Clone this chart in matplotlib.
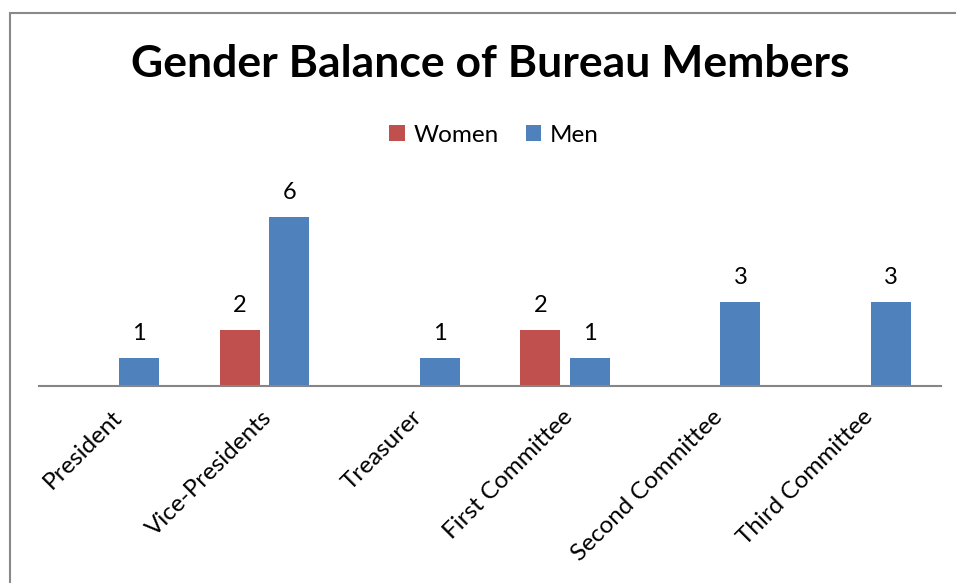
import matplotlib.pyplot as plt
import matplotlib.transforms as mtransforms
import numpy as np
from matplotlib.patches import Rectangle

categories = ["President", "Vice-Presidents", "Treasurer",
              "First Committee", "Second Committee", "Third Committee"]
women = [0, 2, 0, 2, 0, 0]
men = [1, 6, 1, 1, 3, 3]

RED = "#C0504D"
BLUE = "#4F81BD"
GREY = "#898989"

plt.rcParams["font.family"] = ["Lato", "DejaVu Sans"]

W, H = 956, 583
fig = plt.figure(figsize=(W / 100, H / 100), dpi=100)

# chart frame (runs off the right and bottom edges, as in the reference)
fig.patches.append(Rectangle((10 / W, -0.1), 1.2, (H - 13) / H + 0.1,
                             transform=fig.transFigure, fill=False,
                             edgecolor=GREY, linewidth=1.5))

left, right, top, bottom = 39, 941, 189, 386
ax = fig.add_axes([left / W, (H - bottom) / H, (right - left) / W, (bottom - top) / H])

x = np.arange(len(categories))
bw = 0.266
off = 0.166
bw_women = ax.bar(x - off, women, bw, color=RED, label="Women")
bw_men = ax.bar(x + off, men, bw, color=BLUE, label="Men")

# value labels, only for non-empty bars
for bars, vals in ((bw_women, women), (bw_men, men)):
    for b, v in zip(bars, vals):
        if v > 0:
            ax.annotate(str(v), (b.get_x() + b.get_width() / 2, v),
                        xytext=(0, 13), textcoords="offset points",
                        ha="center", va="baseline", fontsize=17)

ax.set_xlim(-0.5, len(categories) - 0.5)
ax.set_ylim(0, 7)
for s in ("top", "right", "left"):
    ax.spines[s].set_visible(False)
ax.spines["bottom"].set_color("#868686")
ax.spines["bottom"].set_linewidth(1.5)
ax.set_yticks([])
ax.set_xticks(x)
ax.set_xticklabels(categories, rotation=45, ha="right", va="center",
                   rotation_mode="anchor", fontsize=17.5)
ax.tick_params(axis="x", length=0, pad=20)
shift = mtransforms.ScaledTranslation(4 / 100, 0, fig.dpi_scale_trans)
for lab in ax.get_xticklabels():
    lab.set_transform(lab.get_transform() + shift)

fig.text(490 / W, (H - 64) / H, "Gender Balance of Bureau Members",
         ha="center", va="center", fontsize=32, fontweight="bold")

fig.legend(handles=[bw_women, bw_men], loc="center", ncol=2,
           bbox_to_anchor=(494 / W, (H - 135) / H), frameon=False,
           fontsize=17.5, handlelength=0.65, handleheight=0.65,
           handletextpad=0.35, columnspacing=1.1)

fig.savefig("out.png", dpi=100)
